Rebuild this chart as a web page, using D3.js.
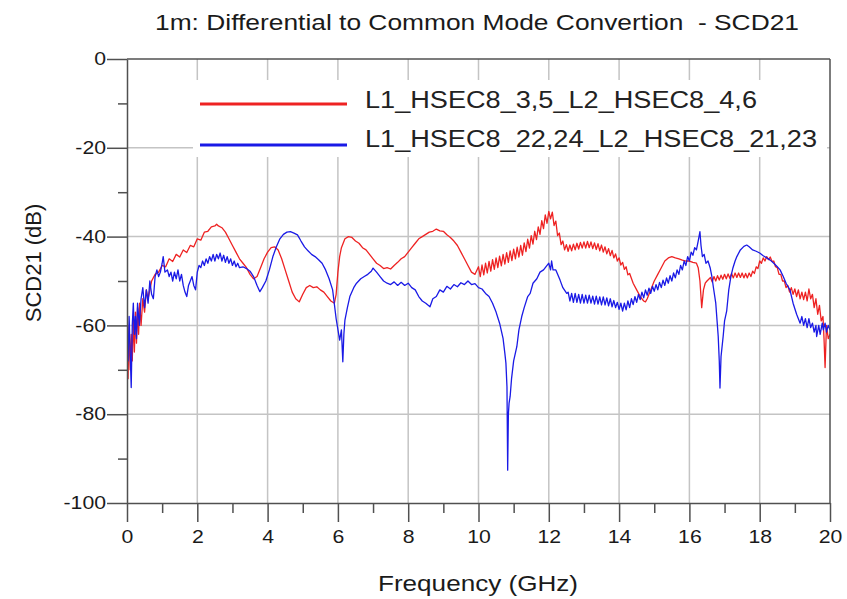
<!DOCTYPE html>
<html><head><meta charset="utf-8">
<script src="https://cdn.jsdelivr.net/npm/d3@7"></script>
<style>html,body{margin:0;padding:0;background:#fff;}svg{display:block;}</style>
</head><body>
<svg id="chart" width="847" height="599"></svg>
<script>
const titleText = "1m: Differential to Common Mode Convertion  - SCD21";
const xLabel = "Frequency (GHz)";
const yLabel = "SCD21 (dB)";
const seriesNames = ["L1_HSEC8_3,5_L2_HSEC8_4,6", "L1_HSEC8_22,24_L2_HSEC8_21,23"];
const xTicks = [0,2,4,6,8,10,12,14,16,18,20];
const xMinorTicks = [1,3,5,7,9,11,13,15,17,19];
const yTicks = [0,-20,-40,-60,-80,-100];
const yMinorTicks = [-10,-30,-50,-70,-90];

const redData = [
[0.00,-66],[0.03,-72],[0.06,-60],[0.09,-70],[0.12,-62],[0.15,-68],[0.18,-58],[0.21,-66],[0.24,-57],[0.27,-64],[0.30,-56],[0.33,-62],[0.36,-55],[0.40,-60],[0.45,-54],[0.50,-57],[0.55,-52],[0.60,-54],[0.70,-50],[0.80,-48.5],[0.90,-48],[1.00,-46.5],[1.10,-46.8],[1.20,-45],[1.30,-45.6],[1.40,-44],[1.50,-44.6],[1.60,-43],[1.70,-43.6],[1.80,-42],[1.90,-42.3],[2.00,-40.5],[2.10,-40.8],[2.20,-39],[2.30,-38.8],[2.40,-37.8],[2.50,-37.6],[2.55,-37.2],[2.60,-37.6],[2.70,-38],[2.80,-39],[2.90,-40.5],[3.00,-42],[3.10,-43.5],[3.20,-45],[3.30,-46],[3.40,-47],[3.50,-48.5],[3.60,-49.5],[3.70,-49],[3.80,-47],[3.90,-45],[4.00,-43.5],[4.10,-42.5],[4.20,-42.3],[4.30,-43],[4.40,-45],[4.50,-47.5],[4.60,-50],[4.70,-52.5],[4.80,-54],[4.90,-54.7],[5.00,-53],[5.10,-51.5],[5.20,-51],[5.30,-51.5],[5.40,-51.3],[5.50,-52],[5.60,-52.5],[5.70,-53.5],[5.80,-54.5],[5.90,-55],[5.95,-53],[6.00,-48],[6.05,-44.5],[6.10,-42.5],[6.20,-40.5],[6.30,-40],[6.40,-40.2],[6.50,-41],[6.60,-41.5],[6.70,-42.5],[6.80,-43],[6.90,-44],[7.00,-45],[7.10,-46],[7.20,-46.5],[7.30,-47.2],[7.40,-47],[7.50,-47.3],[7.60,-46.5],[7.70,-45.8],[7.80,-45],[7.90,-44.5],[8.00,-43.5],[8.10,-42.5],[8.20,-41.5],[8.30,-40.5],[8.40,-40],[8.50,-39.5],[8.60,-39],[8.70,-38.8],[8.80,-38.3],[8.90,-38.7],[9.00,-38.8],[9.10,-39.6],[9.20,-40.2],[9.30,-41],[9.40,-42],[9.50,-43.5],[9.60,-45],[9.70,-46.5],[9.80,-48],[9.90,-48.5],
[10.00,-46.8],[10.05,-49.0],[10.10,-46.4],[10.15,-48.6],[10.20,-46.0],[10.25,-48.2],[10.30,-45.6],[10.35,-47.8],[10.40,-45.2],[10.45,-47.4],[10.50,-44.8],[10.55,-47.0],[10.60,-44.4],[10.65,-46.6],[10.70,-44.0],[10.75,-46.2],[10.80,-43.6],[10.85,-45.8],[10.90,-43.2],[10.95,-45.4],[11.00,-42.8],[11.05,-45.0],[11.10,-42.4],[11.15,-44.6],[11.20,-42.0],[11.25,-44.2],[11.30,-41.4],[11.35,-43.4],[11.40,-40.6],[11.45,-42.6],[11.50,-39.8],[11.55,-41.7],[11.60,-38.8],[11.65,-40.7],[11.70,-37.8],[11.75,-39.5],[11.80,-36.4],[11.85,-38.2],[11.90,-35.1],[11.95,-37.0],[12.00,-34.3],[12.05,-36.0],[12.10,-34.5],[12.15,-37.5],[12.20,-36.5],[12.25,-39.8],[12.30,-39.2],[12.35,-41.8],[12.40,-41.0],[12.45,-43.0],[12.50,-41.8],[12.55,-43.3],[12.60,-41.9],[12.65,-43.2],[12.70,-41.7],[12.75,-43.0],[12.80,-41.5],[12.85,-42.8],[12.90,-41.3],[12.95,-42.6],[13.00,-41.2],[13.05,-42.6],[13.10,-41.1],[13.15,-42.5],[13.20,-41.2],[13.25,-42.7],[13.30,-41.4],[13.35,-42.9],[13.40,-41.6],[13.45,-43.2],[13.50,-41.9],[13.55,-43.5],[13.60,-42.3],[13.65,-43.9],[13.70,-42.7],[13.75,-44.3],[13.80,-43.1],[13.85,-44.8],[13.90,-43.9],[13.95,-45.5],[14.00,-44.8],[14.05,-46.4],[14.10,-45.8],[14.15,-47.4],[14.20,-46.8],[14.25,-48.6],[14.30,-48.3],
[14.40,-50.5],[14.50,-52],[14.60,-53.5],[14.70,-54.5],[14.75,-54.7],[14.80,-54],[14.90,-52],[15.00,-50],[15.10,-48.5],[15.20,-47],[15.30,-45.5],[15.40,-44.8],[15.50,-44.5],[15.60,-44.8],[15.70,-45],[15.80,-45.3],[15.90,-45.5],[16.00,-45.5],[16.10,-45.8],[16.20,-46],[16.25,-47],[16.30,-50],[16.35,-56],[16.40,-52],[16.45,-50.5],[16.50,-50],
[16.60,-49.2],[16.65,-50.2],[16.70,-49],[16.75,-50],[16.80,-48.8],[16.85,-49.8],[16.90,-48.7],[16.95,-49.6],[17.00,-48.5],[17.05,-49.5],[17.10,-48.4],[17.15,-49.4],[17.20,-48.3],[17.25,-49.3],[17.30,-48.2],[17.35,-49.2],[17.40,-48.2],[17.45,-49.2],[17.50,-48.2],[17.55,-49.3],[17.60,-48.3],[17.65,-49.3],[17.70,-48.2],[17.75,-49.0],[17.80,-47.8],[17.85,-48.3],[17.90,-46.8],[17.95,-47.2],[18.00,-45.5],[18.05,-46.0],[18.10,-44.8],[18.15,-45.5],[18.20,-44.5],[18.25,-45.2],[18.30,-44.6],[18.35,-45.6],[18.40,-45.5],[18.45,-46.8],[18.50,-47],[18.55,-48.5],[18.60,-48.5],[18.65,-50],[18.70,-50],[18.75,-51.5],[18.80,-51],[18.85,-52.5],[18.90,-51.5],[18.95,-53],[19.00,-51.8],[19.05,-53.5],[19.10,-52],[19.15,-54],[19.20,-52.5],[19.25,-54.2],[19.30,-52.5],[19.35,-54.5],[19.40,-51.8],[19.45,-54],[19.50,-53],[19.55,-56],[19.60,-54],[19.65,-57.5],[19.70,-55.5],[19.75,-59],[19.80,-58],[19.83,-63],[19.86,-69.5],[19.90,-60],[19.95,-63],[20.00,-62]
];

const blueData = [
[0.00,-62],[0.03,-68],[0.06,-58],[0.09,-66],[0.12,-74],[0.15,-60],[0.18,-55],[0.21,-62],[0.24,-58],[0.27,-63],[0.30,-55],[0.35,-60],[0.40,-54],[0.45,-51.5],[0.50,-56],[0.55,-52],[0.60,-55],[0.65,-50],[0.70,-53],[0.75,-54],[0.80,-49],[0.85,-47.5],[0.90,-49],[0.95,-48],[1.00,-46],[1.03,-44.5],[1.08,-48],[1.15,-47.5],[1.20,-49],[1.25,-48],[1.30,-50],[1.35,-48],[1.40,-49.5],[1.45,-47.5],[1.50,-50],[1.55,-48.5],[1.60,-51],[1.65,-52.5],[1.70,-53.5],[1.75,-51],[1.80,-50],[1.85,-49],[1.90,-51],[1.95,-52],[2.00,-48],[2.05,-46.5],[2.10,-47],[2.15,-45.5],[2.20,-46.5],[2.25,-45],[2.30,-46],[2.35,-44.5],[2.40,-45.5],[2.45,-44],[2.50,-45.5],[2.55,-44],[2.60,-45],[2.65,-43.7],[2.70,-45.5],[2.75,-44.2],[2.80,-45.8],[2.85,-44.5],[2.90,-46],[2.95,-45],[3.00,-46.5],[3.05,-45.5],[3.10,-46.8],[3.15,-46],[3.20,-47],[3.30,-46.8],[3.40,-47.2],[3.50,-47.8],[3.60,-49],[3.70,-51],[3.78,-52.4],[3.85,-51.5],[3.95,-50],[4.05,-47.5],[4.15,-44.5],[4.25,-42.3],[4.35,-40.5],[4.45,-39.5],[4.55,-39],[4.65,-38.9],[4.75,-39.2],[4.85,-39.6],[4.95,-41],[5.05,-42.3],[5.15,-43.2],[5.25,-44],[5.35,-44.5],[5.45,-45.2],[5.55,-46],[5.65,-47.5],[5.75,-49.5],[5.85,-52],[5.95,-58.5],[6.05,-63.3],[6.10,-61],[6.14,-68.2],[6.17,-62],[6.20,-58.8],[6.27,-56],[6.34,-53.5],[6.45,-51.5],[6.53,-50.5],[6.65,-49.5],[6.75,-49],[6.85,-48.5],[6.95,-47.8],[7.00,-47.1],[7.10,-48],[7.20,-49],[7.30,-50],[7.40,-50.5],[7.50,-50.8],[7.60,-50.2],[7.70,-51],[7.80,-50.3],[7.90,-51],[8.00,-50.5],[8.10,-51.5],[8.20,-52],[8.30,-53.5],[8.40,-54.5],[8.50,-55],[8.62,-55.8],[8.70,-54],[8.80,-53.5],[8.90,-52],[9.00,-52.5],[9.10,-51.2],[9.20,-51.8],[9.30,-50.8],[9.40,-51.3],[9.50,-50.4],[9.60,-50.8],[9.70,-50],[9.80,-50.8],[9.90,-50.6],[10.00,-51.5],[10.10,-51.8],[10.20,-52.8],[10.30,-53.5],[10.40,-55],[10.50,-57],[10.60,-59.5],[10.70,-63],[10.75,-66.3],[10.78,-68.5],[10.81,-73.8],[10.83,-92.6],[10.85,-80],[10.87,-77.5],[10.90,-76],[10.94,-72],[11.00,-68],[11.09,-64.8],[11.15,-61],[11.23,-58],[11.30,-56],[11.40,-53.5],[11.47,-52.8],[11.55,-50.5],[11.66,-49.5],[11.75,-48],[11.85,-47.5],[11.95,-46.5],[12.00,-46],[12.05,-47.5],[12.08,-45.5],[12.12,-47.5],[12.20,-47.5],[12.32,-49.8],[12.40,-51.5],[12.51,-52.8],
[12.55,-52.5],[12.60,-54.5],[12.65,-52.8],[12.70,-54.8],[12.75,-52.8],[12.80,-54.8],[12.85,-53],[12.90,-55],[12.95,-53],[13.00,-55],[13.05,-53.2],[13.10,-55],[13.15,-53.2],[13.20,-55],[13.25,-53.4],[13.30,-55.2],[13.35,-53.4],[13.40,-55.2],[13.45,-53.6],[13.50,-55.4],[13.55,-53.6],[13.60,-55.4],[13.65,-53.8],[13.70,-55.6],[13.75,-54],[13.80,-55.8],[13.85,-54.4],[13.90,-56],[13.95,-54.8],[14.00,-56.4],[14.05,-55],[14.10,-56.8],[14.15,-55],[14.20,-56.5],[14.25,-54.5],[14.30,-56],[14.35,-54],[14.40,-55.3],[14.45,-53.5],[14.50,-54.8],[14.55,-53],[14.60,-54.2],[14.65,-52.5],[14.70,-53.8],[14.75,-52],[14.80,-53.2],[14.85,-51.6],[14.90,-52.8],[14.95,-51.2],[15.00,-52.3],[15.05,-50.8],[15.10,-52],[15.15,-50.3],[15.20,-51.5],[15.25,-49.8],[15.30,-51],[15.35,-49.3],[15.40,-50.5],[15.45,-48.8],[15.50,-50],[15.55,-48.2],[15.60,-49.3],[15.65,-47.5],[15.70,-48.5],[15.75,-46.5],[15.80,-47.5],[15.85,-45.5],[15.90,-46.5],[15.95,-44.5],[16.00,-45.5],[16.05,-43.5],[16.10,-44.2],[16.15,-42.5],[16.20,-43],[16.25,-41],[16.30,-38.9],[16.33,-42],[16.37,-44.5],[16.42,-44],[16.47,-46],[16.53,-45.5],[16.59,-47],[16.64,-49],[16.68,-51.3],[16.75,-55],[16.82,-62.5],[16.85,-68],[16.87,-74.1],[16.90,-67],[16.96,-62.5],[17.00,-59],[17.06,-56.8],[17.12,-52],[17.18,-49],[17.24,-47],[17.30,-45.5],[17.35,-44.5],[17.45,-43],[17.55,-42.2],[17.63,-41.9],[17.70,-42.3],[17.80,-43],[17.90,-43.3],[18.00,-43.7],[18.10,-44.3],[18.20,-44.8],[18.30,-45.3],[18.40,-46],[18.50,-46.8],[18.58,-47.5],[18.67,-49],[18.75,-50.5],[18.86,-52],[18.95,-55],[19.05,-57.5],[19.15,-59.5],[19.20,-58],[19.25,-60],[19.30,-58.5],[19.35,-60.5],[19.40,-58.5],[19.45,-60.5],[19.50,-59.5],[19.55,-61.5],[19.60,-60],[19.62,-62.5],[19.68,-60],[19.72,-62],[19.78,-59.5],[19.81,-61],[19.86,-59.5],[19.90,-61.5],[19.95,-60],[20.00,-61]
];

const colors = ["#ee2222", "#1a1ae6"];

(function(){
const SX = 1.18; // horizontal stretch of text in reference
const svg = d3.select("#chart");
svg.append("rect").attr("width",847).attr("height",599).attr("fill","#fff");

const pL = 127, pR = 830, pT = 59, pB = 503;
const x = d3.scaleLinear().domain([0,20]).range([pL,pR]);
const y = d3.scaleLinear().domain([-100,0]).range([pB,pT]);

const fontFam = "'Liberation Sans', Arial, sans-serif";
const fmt = d => String(d);

// grid
const grid = svg.append("g");
grid.selectAll("line.v").data(xTicks.slice(1,-1)).join("line").attr("class","v")
  .attr("x1",d=>x(d)).attr("x2",d=>x(d)).attr("y1",pT).attr("y2",pB)
  .attr("stroke","#c4c4c4").attr("stroke-width",1.5);
grid.selectAll("line.h").data(yTicks.slice(1,-1)).join("line").attr("class","h")
  .attr("y1",d=>y(d)).attr("y2",d=>y(d)).attr("x1",pL).attr("x2",pR)
  .attr("stroke","#c4c4c4").attr("stroke-width",1.5);

// clip
svg.append("clipPath").attr("id","clip").append("rect")
  .attr("x",pL).attr("y",pT).attr("width",pR-pL).attr("height",pB-pT);

const line = d3.line().x(d=>x(d[0])).y(d=>y(d[1]));
const plot = svg.append("g").attr("clip-path","url(#clip)");
plot.append("path").datum(redData).attr("d",line).attr("fill","none")
  .attr("stroke",colors[0]).attr("stroke-width",1.3).attr("stroke-linejoin","round");
plot.append("path").datum(blueData).attr("d",line).attr("fill","none")
  .attr("stroke",colors[1]).attr("stroke-width",1.3).attr("stroke-linejoin","round");

// axes
const axisColor = "#505050";
function styleAxis(g){
  g.select(".domain").attr("stroke",axisColor).attr("stroke-width",1.5);
  g.selectAll(".tick line").attr("stroke",axisColor).attr("stroke-width",1.5);
  g.selectAll("text").attr("font-family",fontFam).attr("font-size",18).attr("fill","#1a1a1a");
}
const yAxis = svg.append("g").attr("transform",`translate(${pL},0)`)
  .call(d3.axisLeft(y).tickValues(yTicks).tickFormat(fmt).tickSize(20).tickPadding(1).tickSizeOuter(0));
styleAxis(yAxis);
yAxis.selectAll("text").attr("x",-21/SX).attr("transform",`scale(${SX},1)`);
const yMinor = svg.append("g").attr("transform",`translate(${pL},0)`)
  .call(d3.axisLeft(y).tickValues(yMinorTicks).tickSize(9).tickFormat("").tickSizeOuter(0));
styleAxis(yMinor);
yMinor.select(".domain").remove();

const xAxis = svg.append("g").attr("transform",`translate(0,${pB})`)
  .call(d3.axisBottom(x).tickValues(xTicks).tickFormat(fmt).tickSize(19).tickPadding(8).tickSizeOuter(0));
styleAxis(xAxis);
xAxis.selectAll("text").attr("transform",`scale(${SX},1)`);
const xMinor = svg.append("g").attr("transform",`translate(0,${pB})`)
  .call(d3.axisBottom(x).tickValues(xMinorTicks).tickSize(10).tickFormat("").tickSizeOuter(0));
styleAxis(xMinor);
xMinor.select(".domain").remove();

// frame top & right
svg.append("line").attr("x1",pL).attr("x2",pR).attr("y1",pT).attr("y2",pT)
  .attr("stroke",axisColor).attr("stroke-width",1.5);
svg.append("line").attr("x1",pR).attr("x2",pR).attr("y1",pT).attr("y2",pB)
  .attr("stroke",axisColor).attr("stroke-width",1.5);

// legend
svg.append("rect").attr("x",193).attr("y",80).attr("width",634).attr("height",77).attr("fill","#fff");
const legY = [104, 145], legTextY = [108, 147], legLen = [392, 452];
seriesNames.forEach((name,i)=>{
  svg.append("line").attr("x1",200).attr("x2",347).attr("y1",legY[i]).attr("y2",legY[i])
    .attr("stroke",colors[i]).attr("stroke-width",3.2);
  svg.append("text").attr("x",365).attr("y",legTextY[i]).text(name)
    .attr("font-family",fontFam).attr("font-size",23).attr("fill","#222")
    .attr("textLength",legLen[i]).attr("lengthAdjust","spacingAndGlyphs");
});

// title & labels
svg.append("text").attr("x",155).attr("y",30).text(titleText)
  .style("white-space","pre")
  .attr("font-family",fontFam).attr("font-size",22).attr("fill","#1a1a1a")
  .attr("textLength",644).attr("lengthAdjust","spacingAndGlyphs");
svg.append("text").attr("x",378).attr("y",591).text(xLabel)
  .attr("font-family",fontFam).attr("font-size",22).attr("fill","#1a1a1a")
  .attr("textLength",200).attr("lengthAdjust","spacingAndGlyphs");
svg.append("text").attr("transform","translate(41,263) rotate(-90)")
  .attr("text-anchor","middle").text(yLabel)
  .attr("font-family",fontFam).attr("font-size",22).attr("fill","#1a1a1a");
})();
</script>
</body></html>
